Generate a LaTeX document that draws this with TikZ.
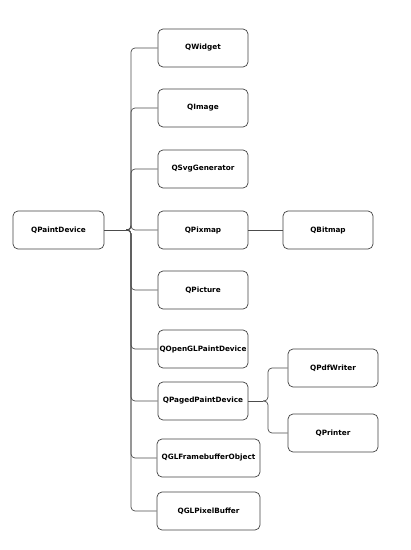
\documentclass[tikz,border=0pt]{standalone}
\usepackage{fontspec}
\setmainfont{DejaVu Sans}
\begin{document}
\begin{tikzpicture}[x=1bp,y=-1bp,
  box/.style={draw=black!75, line width=0.7bp, rounded corners=5bp, minimum width=90bp, minimum height=38bp, inner sep=1bp, font=\fontsize{7.3}{8}\selectfont\bfseries, text=black},
  wide/.style={minimum width=103bp},
  conn/.style={draw=black!70, line width=0.7bp, rounded corners=4bp}]
\useasboundingbox (0,0) rectangle (410,550);
\node[box, minimum width=91bp] (pd) at (58.5,230) {QPaintDevice};
\node[box] (w) at (203,48) {QWidget};
\node[box] (img) at (203,108) {QImage};
\node[box] (svg) at (203,169) {QSvgGenerator};
\node[box] (pix) at (203,230) {QPixmap};
\node[box] (pic) at (203,290) {QPicture};
\node[box] (ogl) at (203,349) {QOpenGLPaintDevice};
\node[box] (pp) at (203,401) {QPagedPaintDevice};
\node[box, wide] (fbo) at (208.5,458) {QGLFramebufferObject};
\node[box, wide] (pb) at (208.5,511) {QGLPixelBuffer};
\node[box] (bm) at (328,230) {QBitmap};
\node[box] (pdf) at (333,368) {QPdfWriter};
\node[box] (pr) at (333,433) {QPrinter};
\coordinate (tip) at (126,230);
\coordinate (tip2) at (263,401);
\draw[conn] (pd.east) -- (tip);
\foreach \c in {w,img,svg,pix,pic,ogl,pp,fbo,pb}
  \draw[conn] (tip) -- ++(5,0) |- (\c.west);
\draw[conn] (pix.east) -- (bm.west);
\draw[conn] (pp.east) -- (tip2);
\foreach \c in {pdf,pr}
  \draw[conn] (tip2) -- ++(5,0) |- (\c.west);
\end{tikzpicture}
\end{document}
